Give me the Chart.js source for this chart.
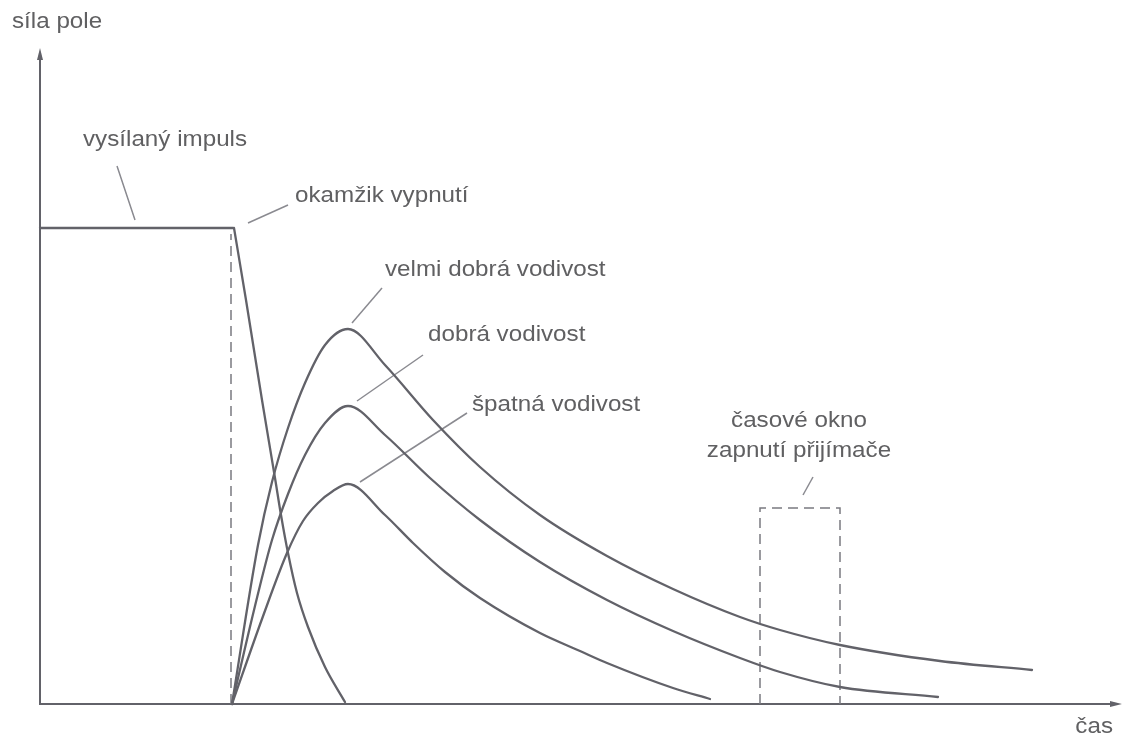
<!DOCTYPE html>
<html lang="cs">
<head>
  <meta charset="UTF-8">
  <title>Síla pole v čase</title>
  <script src="https://cdn.jsdelivr.net/npm/chart.js"></script>
  <style>
    html, body { margin: 0; padding: 0; background: #fff; }
    #obal { width: 1123px; height: 738px; position: relative; }
  </style>
</head>
<body>
  <div id="obal"><canvas id="graf"></canvas></div>

  <script>
  // čas a síla pole v libovolných jednotkách
  const impulsCas  = [0, 19.3];
  const impulsSila = [95.2, 95.2];

  const poklesCas  = [19.4, 20.6, 22.2, 23.5, 24.1, 24.8, 25.7, 26.8, 28.5, 30.5];
  const poklesSila = [95.2, 80.8, 60.8, 45.2, 37.8, 30.2, 22.2, 15.4, 7.4, 0.4];

  const velmiDobraCas  = [19.2, 21.8, 23.2, 24.8, 26.5, 28.5, 30.8, 34.5, 39.3, 44, 50, 56.7, 63.3, 70, 74, 80, 90, 99.2];
  const velmiDobraSila = [0, 31.8, 44.4, 55.2, 64.2, 71.8, 75, 67.8, 56.8, 47.4, 37.8, 29.6, 23, 17.4, 14.8, 11.8, 8.6, 6.8];

  const dobraCas  = [19.2, 21.5, 23.2, 24.8, 26.5, 28.5, 30.8, 34.5, 39, 44, 50, 56.7, 63.3, 70, 74, 80, 89.8];
  const dobraSila = [0, 19.6, 32.8, 42, 49.8, 56.2, 59.6, 53.8, 45.2, 36.8, 28.4, 20.8, 14.6, 9.2, 6.4, 3.4, 1.4];

  const spatnaCas  = [19.2, 22.2, 24.7, 26.3, 27.8, 29.3, 30.8, 34.5, 37.3, 40.5, 44, 50, 54, 56.7, 63.3, 67];
  const spatnaSila = [0, 17, 30.2, 36.6, 40.2, 42.6, 44, 37.8, 32.2, 26.4, 21.2, 14.2, 10.6, 8.2, 3.2, 1];

  // okamžik vypnutí a časové okno přijímače
  const vypnutiCas  = [19.1, 19.1];
  const vypnutiSila = [0, 94];
  const oknoCas  = [72, 72, 80, 80];
  const oknoSila = [0, 39.2, 39.2, 0];

  // odkazové čárky k popiskům [x1, y1, x2, y2]
  const odkazy = [
    [7.7, 107.6, 9.5, 96.8],
    [20.8, 96.2, 24.8, 99.8],
    [31.2, 76.2, 34.2, 83.2],
    [31.7, 60.6, 38.3, 69.8],
    [32, 44.4, 42.7, 58.2],
    [76.3, 41.8, 77.3, 45.4]
  ];

  const popisky = ['vysílaný impuls', 'okamžik vypnutí', 'velmi dobrá vodivost', 'dobrá vodivost', 'špatná vodivost'];
  const popiskyX = [4.3, 25.5, 34.5, 38.8, 43.2];
  const popiskyY = [111.6, 100.4, 85.6, 72.6, 58.6];
  const oknoPopisek = ['časové okno', 'zapnutí přijímače'];

  const osaX = 'čas';
  const osaY = 'síla pole';

  const barvaCary = '#626269';
  const barvaTextu = '#606062';
  const pismo = '22px "Liberation Sans", Arial, sans-serif';

  const body = (xs, ys) => xs.map((x, i) => ({ x: x, y: ys[i] }));

  function krivka(xs, ys) {
    return {
      data: body(xs, ys),
      borderColor: barvaCary,
      borderWidth: 2.3,
      cubicInterpolationMode: 'monotone',
      borderCapStyle: 'round',
      borderJoinStyle: 'round',
      pointRadius: 0,
      clip: false
    };
  }

  function carkovana(xs, ys) {
    return {
      data: body(xs, ys),
      borderColor: '#7a7a80',
      borderWidth: 1.5,
      borderDash: [10, 6],
      tension: 0,
      pointRadius: 0,
      clip: false
    };
  }

  const datasets = [
    Object.assign(krivka(impulsCas, impulsSila), { cubicInterpolationMode: 'default', tension: 0 }),
    krivka(poklesCas, poklesSila),
    krivka(velmiDobraCas, velmiDobraSila),
    krivka(dobraCas, dobraSila),
    krivka(spatnaCas, spatnaSila),
    carkovana(vypnutiCas, vypnutiSila),
    carkovana(oknoCas, oknoSila)
  ];

  odkazy.forEach(o => {
    datasets.push({
      data: [{ x: o[0], y: o[1] }, { x: o[2], y: o[3] }],
      borderColor: '#8a8a90',
      borderWidth: 1.5,
      tension: 0,
      pointRadius: 0,
      clip: false
    });
  });

  function textRoztazeny(ctx, text, x, y, zarovnani) {
    ctx.save();
    ctx.font = pismo;
    ctx.fillStyle = barvaTextu;
    ctx.textBaseline = 'alphabetic';
    ctx.textAlign = zarovnani || 'left';
    ctx.translate(x, y);
    ctx.scale(1.1, 1);
    ctx.fillText(text, 0, 0);
    ctx.restore();
  }

  // osy se šipkami a popisky
  const osyPlugin = {
    id: 'osy',
    beforeDatasetsDraw(chart) {
      const ctx = chart.ctx;
      const a = chart.chartArea;
      const x0 = chart.scales.x.getPixelForValue(0);
      const y0 = chart.scales.y.getPixelForValue(0);
      ctx.save();
      ctx.strokeStyle = barvaCary;
      ctx.fillStyle = barvaCary;
      ctx.lineWidth = 2;
      ctx.beginPath();
      ctx.moveTo(x0, y0 + 1);
      ctx.lineTo(x0, a.top + 6);
      ctx.moveTo(x0 - 1, y0);
      ctx.lineTo(a.right - 6, y0);
      ctx.stroke();
      ctx.beginPath();
      ctx.moveTo(x0, a.top);
      ctx.lineTo(x0 - 3, a.top + 12);
      ctx.lineTo(x0 + 3, a.top + 12);
      ctx.closePath();
      ctx.moveTo(a.right, y0);
      ctx.lineTo(a.right - 12, y0 - 3);
      ctx.lineTo(a.right - 12, y0 + 3);
      ctx.closePath();
      ctx.fill();
      ctx.restore();
    },
    afterDraw(chart) {
      const ctx = chart.ctx;
      const a = chart.chartArea;
      const sx = chart.scales.x, sy = chart.scales.y;
      textRoztazeny(ctx, osaY, a.left - 28, a.top - 20);
      textRoztazeny(ctx, osaX, a.right - 9, a.bottom + 29, 'right');
      popisky.forEach((t, i) => {
        textRoztazeny(ctx, t, sx.getPixelForValue(popiskyX[i]), sy.getPixelForValue(popiskyY[i]));
      });
      const stred = sx.getPixelForValue((oknoCas[0] + oknoCas[2]) / 2) - 1;
      textRoztazeny(ctx, oknoPopisek[0], stred, sy.getPixelForValue(55.4), 'center');
      textRoztazeny(ctx, oknoPopisek[1], stred, sy.getPixelForValue(49.4), 'center');
    }
  };

  const ctx = document.getElementById('graf').getContext('2d');
  new Chart(ctx, {
    type: 'line',
    data: { datasets: datasets },
    options: {
      responsive: true,
      maintainAspectRatio: false,
      animation: false,
      layout: { padding: { left: 40, top: 48, right: 1, bottom: 34 } },
      scales: {
        x: { type: 'linear', min: 0, max: 108.2, display: false },
        y: { type: 'linear', min: 0, max: 131.2, display: false }
      },
      plugins: {
        legend: { display: false },
        tooltip: { enabled: false }
      }
    },
    plugins: [osyPlugin]
  });
  </script>
</body>
</html>
